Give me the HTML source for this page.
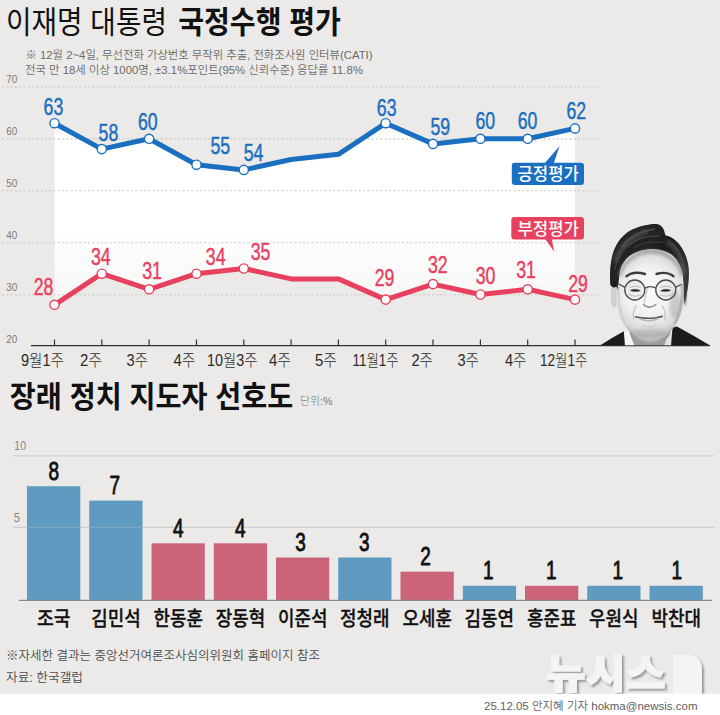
<!DOCTYPE html>
<html lang="ko"><head><meta charset="utf-8"><title>이재명 대통령 국정수행 평가</title>
<style>
html,body{margin:0;padding:0;background:#ebeae8;}
body{width:720px;height:715px;overflow:hidden;}
svg{display:block;}
text{font-family:"Liberation Sans","Noto Sans CJK KR","NanumGothic",sans-serif;}
.kr{font-family:"Liberation Sans","Noto Sans CJK KR","NanumGothic",sans-serif;}
.num{font-family:"Liberation Sans","Noto Sans CJK KR",sans-serif;}
</style></head><body>
<svg width="720" height="715" viewBox="0 0 720 715">
<defs>
<linearGradient id="wfade" gradientUnits="userSpaceOnUse" x1="0" y1="120" x2="0" y2="306">
<stop offset="0" stop-color="#fff" stop-opacity="0.25"/>
<stop offset="0.1" stop-color="#fff" stop-opacity="1"/>
<stop offset="0.58" stop-color="#fff" stop-opacity="1"/>
<stop offset="1" stop-color="#fff" stop-opacity="0.58"/>
</linearGradient>
<filter id="ds" x="-10%" y="-10%" width="130%" height="140%">
<feGaussianBlur in="SourceAlpha" stdDeviation="1.2"/><feOffset dx="2.2" dy="2" result="o"/>
<feComponentTransfer><feFuncA type="linear" slope="0.36"/></feComponentTransfer>
<feMerge><feMergeNode/><feMergeNode in="SourceGraphic"/></feMerge>
</filter>
</defs>
<rect width="720" height="715" fill="#ebeae8"/>
<text class="kr" x="6" y="33.2" font-size="31" font-weight="400" fill="#111" textLength="161" lengthAdjust="spacingAndGlyphs">이재명 대통령</text>
<text class="kr" x="178.3" y="33.2" font-size="31" font-weight="700" fill="#111" textLength="162.5" lengthAdjust="spacingAndGlyphs">국정수행 평가</text>
<text class="kr" x="25.5" y="59" font-size="11" font-weight="350" fill="#6a6a6a" textLength="347" lengthAdjust="spacingAndGlyphs">※ 12월 2~4일, 무선전화 가상번호 무작위 추출, 전화조사원 인터뷰(CATI)</text>
<text class="kr" x="25" y="74.2" font-size="11" font-weight="350" fill="#6a6a6a" textLength="338" lengthAdjust="spacingAndGlyphs">전국 만 18세 이상 1000명, ±3.1%포인트(95% 신뢰수준) 응답률 11.8%</text>
<polygon points="54.5,123.2 101.8,149.1 149.1,138.8 196.5,164.7 243.8,169.9 291.1,159.5 338.4,154.3 385.7,123.2 433.0,143.9 480.4,138.8 527.7,138.8 575.0,128.4 575.0,299.6 527.7,289.3 480.4,294.5 433.0,284.1 385.7,299.6 338.4,278.9 291.1,278.9 243.8,268.5 196.5,273.7 149.1,289.3 101.8,273.7 54.5,304.8" fill="url(#wfade)"/>
<line x1="2" x2="600" y1="87.0" y2="87.0" stroke="#c8c8c6" stroke-width="1.1" stroke-dasharray="2 2.3"/>
<line x1="2" x2="600" y1="138.9" y2="138.9" stroke="#c8c8c6" stroke-width="1.1" stroke-dasharray="2 2.3"/>
<line x1="2" x2="600" y1="190.8" y2="190.8" stroke="#c8c8c6" stroke-width="1.1" stroke-dasharray="2 2.3"/>
<line x1="2" x2="600" y1="242.8" y2="242.8" stroke="#c8c8c6" stroke-width="1.1" stroke-dasharray="2 2.3"/>
<line x1="2" x2="600" y1="294.7" y2="294.7" stroke="#c8c8c6" stroke-width="1.1" stroke-dasharray="2 2.3"/>
<text class="num" transform="translate(6.3 83.2) scale(0.9 1)" font-size="11" fill="#7a7a7a">70</text>
<text class="num" transform="translate(6.3 135.2) scale(0.9 1)" font-size="11" fill="#7a7a7a">60</text>
<text class="num" transform="translate(6.3 187.1) scale(0.9 1)" font-size="11" fill="#7a7a7a">50</text>
<text class="num" transform="translate(6.3 239.0) scale(0.9 1)" font-size="11" fill="#7a7a7a">40</text>
<text class="num" transform="translate(6.3 290.9) scale(0.9 1)" font-size="11" fill="#7a7a7a">30</text>
<text class="num" transform="translate(6.3 342.8) scale(0.9 1)" font-size="11" fill="#7a7a7a">20</text>
<line x1="31" x2="710" y1="345.6" y2="345.6" stroke="#333" stroke-width="1.4"/>
<line x1="54.5" x2="54.5" y1="339.5" y2="345.5" stroke="#333" stroke-width="1.2"/>
<line x1="101.8" x2="101.8" y1="339.5" y2="345.5" stroke="#333" stroke-width="1.2"/>
<line x1="149.1" x2="149.1" y1="339.5" y2="345.5" stroke="#333" stroke-width="1.2"/>
<line x1="196.5" x2="196.5" y1="339.5" y2="345.5" stroke="#333" stroke-width="1.2"/>
<line x1="243.8" x2="243.8" y1="339.5" y2="345.5" stroke="#333" stroke-width="1.2"/>
<line x1="291.1" x2="291.1" y1="339.5" y2="345.5" stroke="#333" stroke-width="1.2"/>
<line x1="338.4" x2="338.4" y1="339.5" y2="345.5" stroke="#333" stroke-width="1.2"/>
<line x1="385.7" x2="385.7" y1="339.5" y2="345.5" stroke="#333" stroke-width="1.2"/>
<line x1="433.0" x2="433.0" y1="339.5" y2="345.5" stroke="#333" stroke-width="1.2"/>
<line x1="480.4" x2="480.4" y1="339.5" y2="345.5" stroke="#333" stroke-width="1.2"/>
<line x1="527.7" x2="527.7" y1="339.5" y2="345.5" stroke="#333" stroke-width="1.2"/>
<line x1="575.0" x2="575.0" y1="339.5" y2="345.5" stroke="#333" stroke-width="1.2"/>
<text class="kr" x="21.0" y="366.3" font-size="16" fill="#2a2a2a" font-weight="300" textLength="43.0" lengthAdjust="spacingAndGlyphs">9월1주</text>
<text class="kr" x="80.0" y="366.3" font-size="16" fill="#2a2a2a" font-weight="300" textLength="22.0" lengthAdjust="spacingAndGlyphs">2주</text>
<text class="kr" x="126.5" y="366.3" font-size="16" fill="#2a2a2a" font-weight="300" textLength="21.5" lengthAdjust="spacingAndGlyphs">3주</text>
<text class="kr" x="173.5" y="366.3" font-size="16" fill="#2a2a2a" font-weight="300" textLength="22.0" lengthAdjust="spacingAndGlyphs">4주</text>
<text class="kr" x="207.0" y="366.3" font-size="16" fill="#2a2a2a" font-weight="300" textLength="50.5" lengthAdjust="spacingAndGlyphs">10월3주</text>
<text class="kr" x="269.0" y="366.3" font-size="16" fill="#2a2a2a" font-weight="300" textLength="22.0" lengthAdjust="spacingAndGlyphs">4주</text>
<text class="kr" x="315.0" y="366.3" font-size="16" fill="#2a2a2a" font-weight="300" textLength="22.0" lengthAdjust="spacingAndGlyphs">5주</text>
<text class="kr" x="352.5" y="366.3" font-size="16" fill="#2a2a2a" font-weight="300" textLength="46.0" lengthAdjust="spacingAndGlyphs">11월1주</text>
<text class="kr" x="411.5" y="366.3" font-size="16" fill="#2a2a2a" font-weight="300" textLength="21.5" lengthAdjust="spacingAndGlyphs">2주</text>
<text class="kr" x="457.5" y="366.3" font-size="16" fill="#2a2a2a" font-weight="300" textLength="21.5" lengthAdjust="spacingAndGlyphs">3주</text>
<text class="kr" x="505.0" y="366.3" font-size="16" fill="#2a2a2a" font-weight="300" textLength="21.5" lengthAdjust="spacingAndGlyphs">4주</text>
<text class="kr" x="540.0" y="366.3" font-size="16" fill="#2a2a2a" font-weight="300" textLength="47.5" lengthAdjust="spacingAndGlyphs">12월1주</text>
<polyline points="54.5,123.2 101.8,149.1 149.1,138.8 196.5,164.7 243.8,169.9 291.1,159.5 338.4,154.3 385.7,123.2 433.0,143.9 480.4,138.8 527.7,138.8 575.0,128.4" fill="none" stroke="#1b6fc0" stroke-width="5" stroke-linejoin="round" stroke-linecap="round"/>
<circle cx="54.5" cy="123.2" r="4.6" fill="#fff" stroke="#1b6fc0" stroke-width="1.4"/>
<circle cx="101.8" cy="149.1" r="4.6" fill="#fff" stroke="#1b6fc0" stroke-width="1.4"/>
<circle cx="149.1" cy="138.8" r="4.6" fill="#fff" stroke="#1b6fc0" stroke-width="1.4"/>
<circle cx="196.5" cy="164.7" r="4.6" fill="#fff" stroke="#1b6fc0" stroke-width="1.4"/>
<circle cx="243.8" cy="169.9" r="4.6" fill="#fff" stroke="#1b6fc0" stroke-width="1.4"/>
<circle cx="385.7" cy="123.2" r="4.6" fill="#fff" stroke="#1b6fc0" stroke-width="1.4"/>
<circle cx="433.0" cy="143.9" r="4.6" fill="#fff" stroke="#1b6fc0" stroke-width="1.4"/>
<circle cx="480.4" cy="138.8" r="4.6" fill="#fff" stroke="#1b6fc0" stroke-width="1.4"/>
<circle cx="527.7" cy="138.8" r="4.6" fill="#fff" stroke="#1b6fc0" stroke-width="1.4"/>
<circle cx="575.0" cy="128.4" r="4.6" fill="#fff" stroke="#1b6fc0" stroke-width="1.4"/>
<polyline points="54.5,304.8 101.8,273.7 149.1,289.3 196.5,273.7 243.8,268.5 291.1,278.9 338.4,278.9 385.7,299.6 433.0,284.1 480.4,294.5 527.7,289.3 575.0,299.6" fill="none" stroke="#e8405f" stroke-width="5" stroke-linejoin="round" stroke-linecap="round"/>
<circle cx="54.5" cy="304.8" r="4.6" fill="#fff" stroke="#e8405f" stroke-width="1.4"/>
<circle cx="101.8" cy="273.7" r="4.6" fill="#fff" stroke="#e8405f" stroke-width="1.4"/>
<circle cx="149.1" cy="289.3" r="4.6" fill="#fff" stroke="#e8405f" stroke-width="1.4"/>
<circle cx="196.5" cy="273.7" r="4.6" fill="#fff" stroke="#e8405f" stroke-width="1.4"/>
<circle cx="243.8" cy="268.5" r="4.6" fill="#fff" stroke="#e8405f" stroke-width="1.4"/>
<circle cx="385.7" cy="299.6" r="4.6" fill="#fff" stroke="#e8405f" stroke-width="1.4"/>
<circle cx="433.0" cy="284.1" r="4.6" fill="#fff" stroke="#e8405f" stroke-width="1.4"/>
<circle cx="480.4" cy="294.5" r="4.6" fill="#fff" stroke="#e8405f" stroke-width="1.4"/>
<circle cx="527.7" cy="289.3" r="4.6" fill="#fff" stroke="#e8405f" stroke-width="1.4"/>
<circle cx="575.0" cy="299.6" r="4.6" fill="#fff" stroke="#e8405f" stroke-width="1.4"/>
<text class="num" transform="translate(53.4 115.0) scale(0.77 1)" font-size="23" fill="#1b6fc0" stroke="#1b6fc0" stroke-width="0.45" text-anchor="middle" font-weight="400">63</text>
<text class="num" transform="translate(108.4 140.5) scale(0.77 1)" font-size="23" fill="#1b6fc0" stroke="#1b6fc0" stroke-width="0.45" text-anchor="middle" font-weight="400">58</text>
<text class="num" transform="translate(147.8 130.0) scale(0.77 1)" font-size="23" fill="#1b6fc0" stroke="#1b6fc0" stroke-width="0.45" text-anchor="middle" font-weight="400">60</text>
<text class="num" transform="translate(220.3 153.5) scale(0.77 1)" font-size="23" fill="#1b6fc0" stroke="#1b6fc0" stroke-width="0.45" text-anchor="middle" font-weight="400">55</text>
<text class="num" transform="translate(253.5 161.0) scale(0.77 1)" font-size="23" fill="#1b6fc0" stroke="#1b6fc0" stroke-width="0.45" text-anchor="middle" font-weight="400">54</text>
<text class="num" transform="translate(386.7 116.0) scale(0.77 1)" font-size="23" fill="#1b6fc0" stroke="#1b6fc0" stroke-width="0.45" text-anchor="middle" font-weight="400">63</text>
<text class="num" transform="translate(440.3 134.5) scale(0.77 1)" font-size="23" fill="#1b6fc0" stroke="#1b6fc0" stroke-width="0.45" text-anchor="middle" font-weight="400">59</text>
<text class="num" transform="translate(485.3 129.0) scale(0.77 1)" font-size="23" fill="#1b6fc0" stroke="#1b6fc0" stroke-width="0.45" text-anchor="middle" font-weight="400">60</text>
<text class="num" transform="translate(527.5 129.0) scale(0.77 1)" font-size="23" fill="#1b6fc0" stroke="#1b6fc0" stroke-width="0.45" text-anchor="middle" font-weight="400">60</text>
<text class="num" transform="translate(576.3 119.3) scale(0.77 1)" font-size="23" fill="#1b6fc0" stroke="#1b6fc0" stroke-width="0.45" text-anchor="middle" font-weight="400">62</text>
<text class="num" transform="translate(43.5 295.4) scale(0.77 1)" font-size="23" fill="#e8405f" stroke="#e8405f" stroke-width="0.45" text-anchor="middle" font-weight="400">28</text>
<text class="num" transform="translate(100.8 265.0) scale(0.77 1)" font-size="23" fill="#e8405f" stroke="#e8405f" stroke-width="0.45" text-anchor="middle" font-weight="400">34</text>
<text class="num" transform="translate(152.0 279.0) scale(0.77 1)" font-size="23" fill="#e8405f" stroke="#e8405f" stroke-width="0.45" text-anchor="middle" font-weight="400">31</text>
<text class="num" transform="translate(215.7 265.4) scale(0.77 1)" font-size="23" fill="#e8405f" stroke="#e8405f" stroke-width="0.45" text-anchor="middle" font-weight="400">34</text>
<text class="num" transform="translate(260.5 259.5) scale(0.77 1)" font-size="23" fill="#e8405f" stroke="#e8405f" stroke-width="0.45" text-anchor="middle" font-weight="400">35</text>
<text class="num" transform="translate(384.5 286.0) scale(0.77 1)" font-size="23" fill="#e8405f" stroke="#e8405f" stroke-width="0.45" text-anchor="middle" font-weight="400">29</text>
<text class="num" transform="translate(437.8 272.7) scale(0.77 1)" font-size="23" fill="#e8405f" stroke="#e8405f" stroke-width="0.45" text-anchor="middle" font-weight="400">32</text>
<text class="num" transform="translate(485.5 284.3) scale(0.77 1)" font-size="23" fill="#e8405f" stroke="#e8405f" stroke-width="0.45" text-anchor="middle" font-weight="400">30</text>
<text class="num" transform="translate(526.0 278.3) scale(0.77 1)" font-size="23" fill="#e8405f" stroke="#e8405f" stroke-width="0.45" text-anchor="middle" font-weight="400">31</text>
<text class="num" transform="translate(578.0 291.7) scale(0.77 1)" font-size="23" fill="#e8405f" stroke="#e8405f" stroke-width="0.45" text-anchor="middle" font-weight="400">29</text>
<path d="M544,164 L559.6,146 L553.5,164 Z" fill="#1b6fc0"/>
<rect x="511.8" y="162.7" width="72.2" height="22.3" rx="3" fill="#1b6fc0"/>
<text class="kr" x="517.5" y="180.2" font-size="16.5" fill="#fff" font-weight="500" textLength="61.5" lengthAdjust="spacingAndGlyphs">긍정평가</text>
<path d="M544.5,238 L554.2,251.8 L551.5,238 Z" fill="#e8405f"/>
<rect x="511.3" y="217" width="72.7" height="22.6" rx="3" fill="#e8405f"/>
<text class="kr" x="517.5" y="234.6" font-size="16.5" fill="#fff" font-weight="500" textLength="61.5" lengthAdjust="spacingAndGlyphs">부정평가</text>
<g id="portrait">
<defs>
<clipPath id="pclip"><rect x="588" y="212" width="126" height="133.2"/></clipPath>
<radialGradient id="skin" cx="649" cy="292" r="44" gradientUnits="userSpaceOnUse">
<stop offset="0" stop-color="#fbfbfb"/><stop offset="0.55" stop-color="#f1f1f1"/><stop offset="0.85" stop-color="#dcdcdc"/><stop offset="1" stop-color="#bdbdbd"/>
</radialGradient>
<linearGradient id="hairg" gradientUnits="userSpaceOnUse" x1="620" y1="225" x2="685" y2="290">
<stop offset="0" stop-color="#2b2b2b"/><stop offset="0.5" stop-color="#1d1d1d"/><stop offset="1" stop-color="#3a3a3a"/>
</linearGradient>
<filter id="pb" x="-5%" y="-5%" width="110%" height="110%"><feGaussianBlur stdDeviation="0.55"/></filter>
<filter id="pb2" x="-20%" y="-20%" width="140%" height="140%"><feGaussianBlur stdDeviation="1.6"/></filter>
</defs>
<g clip-path="url(#pclip)">
<g filter="url(#pb)">
<!-- neck & shirt -->
<path d="M630,330 L670,330 L672,346 L626,346 Z" fill="#9c9c9c"/>
<path d="M623.5,333.5 L629,332 L634.5,346 L624.3,346 Z" fill="#f6f6f6"/>
<path d="M666,340 L672.5,331 L673,346 L664,346 Z" fill="#e2e2e2"/>
<!-- suit -->
<path d="M599,346 L612,338 L623.8,331.2 L625,346 Z" fill="#1f1f1f"/>
<path d="M671,346 L672.5,327.5 L677,326.5 L694,336 L711,346 Z" fill="#1f1f1f"/>
<!-- ears -->
<ellipse cx="614.2" cy="296" rx="3.6" ry="12" fill="#cfcfcf"/>
<ellipse cx="685" cy="297" rx="2.4" ry="9" fill="#b9b9b9"/>
<!-- face -->
<path d="M618,280 C616,288 616,300 617.5,308 C619,317 624,326 631,332.5 C637,338 644,342 650,342 C656,342 663,338.5 669,333 C676,326 681,316 682.5,307 C684,298 684,288 683,278 C681,262 668,250 652,249 C636,249 621,262 618,280 Z" fill="url(#skin)"/>
<!-- chin/jaw shade -->
<path d="M626,326 C634,336 643,341 650,341 C657,341 666,336 673,327 C668,337 658,343.5 650,343.5 C642,343.5 632,337 626,326 Z" fill="#aaaaaa" opacity="0.7"/>
<!-- hair -->
<path d="M610.3,285 C609.3,272 610.5,259 614,250 C618,240 625,233 632,229.5 C640,226 650,223.6 656,224 C661.5,224.5 664.3,228.5 665.3,235.3 C670.5,236.3 676.5,240 680.5,246 C686,254 689,263 689,273.5 C689,283 687.3,293 684.7,304 L683.6,296 C683.8,290 683.6,282 682.8,275.5 C681.5,266.5 677,259 672,255 C667,251.3 660,249.3 652.5,249 C645,249 637,251.3 631,255 C625,259 621.3,265 619.8,272 C618.8,278 618.3,284 618,290 L616.2,286.5 C614.5,288.3 612,287.6 610.3,285 Z" fill="url(#hairg)"/>
<!-- hair highlights -->
<path d="M616,262 C619,248 630,237 648,231" fill="none" stroke="#6a6a6a" stroke-width="5" opacity="0.45" filter="url(#pb2)"/>
<path d="M666,242 C676,247 683,258 685,274" fill="none" stroke="#6a6a6a" stroke-width="4" opacity="0.4" filter="url(#pb2)"/>
<path d="M628,246 C636,239 648,235.5 660,236" fill="none" stroke="#505050" stroke-width="1.2" opacity="0.8"/>
<path d="M634,247.5 C642,242.5 652,241 663,242.5" fill="none" stroke="#484848" stroke-width="1.1" opacity="0.8"/>
<path d="M615,270 C616.5,259 621,250.5 627,245" fill="none" stroke="#4e4e4e" stroke-width="1.2" opacity="0.8"/>
<path d="M622,247 C628,238 640,231 655,229" fill="none" stroke="#565656" stroke-width="2.2" opacity="0.7"/>
<path d="M668,240 C676,246 682,256 684,268" fill="none" stroke="#4c4c4c" stroke-width="2" opacity="0.7"/>
<!-- forehead shade under hairline -->
<path d="M620,276 C622,262 636,251.5 652,251.5 C667,251.5 680,262 682,276" fill="none" stroke="#8a8a8a" stroke-width="4.5" opacity="0.55" filter="url(#pb2)"/>
<!-- temple/cheek side shading -->
<path d="M619,284 C617.6,296 619,312 625.5,324" fill="none" stroke="#cdcdcd" stroke-width="2.4" opacity="0.8"/>
<path d="M681.8,284 C683.3,296 681.3,312 674.5,324" fill="none" stroke="#b4b4b4" stroke-width="3" opacity="0.85"/>
<ellipse cx="675" cy="305" rx="6" ry="14" fill="#8f8f8f" opacity="0.35" filter="url(#pb2)"/>
<ellipse cx="650" cy="333" rx="16" ry="5" fill="#9a9a9a" opacity="0.3" filter="url(#pb2)"/>
<!-- eyebrows -->
<path d="M626.5,276.3 C631,272.6 638,272 645,274" fill="none" stroke="#3c3c3c" stroke-width="2.4" stroke-linecap="round"/>
<path d="M656.5,274 C663,272 669,272.6 673.5,276.3" fill="none" stroke="#3c3c3c" stroke-width="2.4" stroke-linecap="round"/>
<!-- eyes -->
<path d="M630.5,290.4 C633,289 637.5,289 640.3,290.8 C637.5,291.6 633,291.6 630.5,290.4 Z" fill="#2a2a2a" stroke="#2a2a2a" stroke-width="0.6"/>
<path d="M660.7,290.8 C663.5,289 668,289 670.5,290.4 C668,291.6 663.5,291.6 660.7,290.8 Z" fill="#2a2a2a" stroke="#2a2a2a" stroke-width="0.6"/>
<path d="M629.5,287.6 C632.5,285.8 637.5,285.8 641,287.8" fill="none" stroke="#bdbdbd" stroke-width="1"/>
<path d="M660,287.8 C663.5,285.8 668.5,285.8 671.5,287.6" fill="none" stroke="#bdbdbd" stroke-width="1"/>
<path d="M629,294.5 C633,296.5 638,296.5 641,294.5" fill="none" stroke="#c9c9c9" stroke-width="1.2"/>
<path d="M660,294.5 C663,296.5 668,296.5 672,294.5" fill="none" stroke="#c9c9c9" stroke-width="1.2"/>
<!-- nose -->
<path d="M647.5,287 C646.5,294 645,299 643.8,303.5" fill="none" stroke="#d2d2d2" stroke-width="1.6"/>
<path d="M643.5,304.5 C645.5,307.3 648,306.2 649.5,307.4 C651,306.2 653.5,307.3 655.8,304.5" fill="none" stroke="#8d8d8d" stroke-width="1.4" stroke-linecap="round"/>
<!-- smile lines -->
<path d="M636.5,305.5 C633.5,310 632.5,315 634,319.5" fill="none" stroke="#c2c2c2" stroke-width="1.3"/>
<path d="M662,305.5 C665,310 666,315 664.5,319.5" fill="none" stroke="#c2c2c2" stroke-width="1.3"/>
<!-- mouth -->
<path d="M635.5,316.8 C642,318.8 655,319 662.3,316.2" fill="none" stroke="#5a5a5a" stroke-width="1.5" stroke-linecap="round"/>
<path d="M640,318.6 C645,321.4 653,321.4 658,318.6" fill="none" stroke="#b5b5b5" stroke-width="1.6"/>
<path d="M642,325.5 C646,327 652,327 656,325.5" fill="none" stroke="#cfcfcf" stroke-width="1.4"/>
<!-- glasses -->
<circle cx="634.8" cy="290" r="10" fill="#000" fill-opacity="0.03" stroke="#4b4b4b" stroke-width="1.35"/>
<circle cx="665.8" cy="290" r="10" fill="#000" fill-opacity="0.03" stroke="#4b4b4b" stroke-width="1.35"/>
<path d="M644.6,288.3 C647.5,286 653,286 656,288.3" fill="none" stroke="#4b4b4b" stroke-width="1.3"/>
<path d="M625,287.4 L618.4,283.8" stroke="#4b4b4b" stroke-width="1.2"/>
<path d="M675.6,287.4 L681.3,284.3" stroke="#4b4b4b" stroke-width="1.2"/>
</g>
</g>
</g>

<text class="kr" x="9.8" y="407.4" font-size="30" font-weight="700" fill="#111" textLength="283.5" lengthAdjust="spacingAndGlyphs">장래 정치 지도자 선호도</text>
<text class="kr" x="300" y="405" font-size="11" font-weight="300" fill="#777" textLength="32.5" lengthAdjust="spacingAndGlyphs">단위:%</text>
<line x1="13.3" x2="714.5" y1="455.8" y2="455.8" stroke="#cfcfcd" stroke-width="1.2"/>
<line x1="13.3" x2="714.5" y1="527.3" y2="527.3" stroke="#cfcfcd" stroke-width="1.2"/>
<text class="num" transform="translate(14.3 450.3) scale(0.84 1)" font-size="12.5" fill="#858585">10</text>
<text class="num" transform="translate(13.7 522) scale(0.9 1)" font-size="12.5" fill="#858585">5</text>
<rect x="27.0" y="486.2" width="53.3" height="113.8" fill="#5f9bc1"/>
<text class="num" transform="translate(53.9 479.7) scale(0.76 1)" font-size="25" font-weight="400" fill="#111" stroke="#111" stroke-width="0.85" stroke-linejoin="round" text-anchor="middle">8</text>
<text class="kr" x="36.9" y="626.2" font-size="20" font-weight="500" fill="#111" stroke="#111" stroke-width="0.3" textLength="33.5" lengthAdjust="spacingAndGlyphs">조국</text>
<rect x="89.2" y="500.6" width="53.3" height="99.4" fill="#5f9bc1"/>
<text class="num" transform="translate(114.9 494.1) scale(0.76 1)" font-size="25" font-weight="400" fill="#111" stroke="#111" stroke-width="0.85" stroke-linejoin="round" text-anchor="middle">7</text>
<text class="kr" x="91.2" y="626.2" font-size="20" font-weight="500" fill="#111" stroke="#111" stroke-width="0.3" textLength="49.5" lengthAdjust="spacingAndGlyphs">김민석</text>
<rect x="151.5" y="543.3" width="53.3" height="56.7" fill="#cc6479"/>
<text class="num" transform="translate(178.2 536.8) scale(0.76 1)" font-size="25" font-weight="400" fill="#111" stroke="#111" stroke-width="0.85" stroke-linejoin="round" text-anchor="middle">4</text>
<text class="kr" x="153.4" y="626.2" font-size="20" font-weight="500" fill="#111" stroke="#111" stroke-width="0.3" textLength="49.5" lengthAdjust="spacingAndGlyphs">한동훈</text>
<rect x="213.8" y="543.3" width="53.3" height="56.7" fill="#cc6479"/>
<text class="num" transform="translate(240.4 536.8) scale(0.76 1)" font-size="25" font-weight="400" fill="#111" stroke="#111" stroke-width="0.85" stroke-linejoin="round" text-anchor="middle">4</text>
<text class="kr" x="215.7" y="626.2" font-size="20" font-weight="500" fill="#111" stroke="#111" stroke-width="0.3" textLength="49.5" lengthAdjust="spacingAndGlyphs">장동혁</text>
<rect x="276.0" y="557.5" width="53.3" height="42.5" fill="#cc6479"/>
<text class="num" transform="translate(300.6 551.0) scale(0.76 1)" font-size="25" font-weight="400" fill="#111" stroke="#111" stroke-width="0.85" stroke-linejoin="round" text-anchor="middle">3</text>
<text class="kr" x="277.9" y="626.2" font-size="20" font-weight="500" fill="#111" stroke="#111" stroke-width="0.3" textLength="49.5" lengthAdjust="spacingAndGlyphs">이준석</text>
<rect x="338.2" y="557.5" width="53.3" height="42.5" fill="#5f9bc1"/>
<text class="num" transform="translate(364.4 551.0) scale(0.76 1)" font-size="25" font-weight="400" fill="#111" stroke="#111" stroke-width="0.85" stroke-linejoin="round" text-anchor="middle">3</text>
<text class="kr" x="340.1" y="626.2" font-size="20" font-weight="500" fill="#111" stroke="#111" stroke-width="0.3" textLength="49.5" lengthAdjust="spacingAndGlyphs">정청래</text>
<rect x="400.5" y="571.7" width="53.3" height="28.3" fill="#cc6479"/>
<text class="num" transform="translate(425.6 565.2) scale(0.76 1)" font-size="25" font-weight="400" fill="#111" stroke="#111" stroke-width="0.85" stroke-linejoin="round" text-anchor="middle">2</text>
<text class="kr" x="402.4" y="626.2" font-size="20" font-weight="500" fill="#111" stroke="#111" stroke-width="0.3" textLength="49.5" lengthAdjust="spacingAndGlyphs">오세훈</text>
<rect x="462.8" y="585.8" width="53.3" height="14.2" fill="#5f9bc1"/>
<text class="num" transform="translate(488.4 579.3) scale(0.76 1)" font-size="25" font-weight="400" fill="#111" stroke="#111" stroke-width="0.85" stroke-linejoin="round" text-anchor="middle">1</text>
<text class="kr" x="464.6" y="626.2" font-size="20" font-weight="500" fill="#111" stroke="#111" stroke-width="0.3" textLength="49.5" lengthAdjust="spacingAndGlyphs">김동연</text>
<rect x="525.0" y="585.8" width="53.3" height="14.2" fill="#cc6479"/>
<text class="num" transform="translate(551.4 579.3) scale(0.76 1)" font-size="25" font-weight="400" fill="#111" stroke="#111" stroke-width="0.85" stroke-linejoin="round" text-anchor="middle">1</text>
<text class="kr" x="526.9" y="626.2" font-size="20" font-weight="500" fill="#111" stroke="#111" stroke-width="0.3" textLength="49.5" lengthAdjust="spacingAndGlyphs">홍준표</text>
<rect x="587.2" y="585.8" width="53.3" height="14.2" fill="#5f9bc1"/>
<text class="num" transform="translate(617.9 579.3) scale(0.76 1)" font-size="25" font-weight="400" fill="#111" stroke="#111" stroke-width="0.85" stroke-linejoin="round" text-anchor="middle">1</text>
<text class="kr" x="589.1" y="626.2" font-size="20" font-weight="500" fill="#111" stroke="#111" stroke-width="0.3" textLength="49.5" lengthAdjust="spacingAndGlyphs">우원식</text>
<rect x="649.5" y="585.8" width="53.3" height="14.2" fill="#5f9bc1"/>
<text class="num" transform="translate(676.8 579.3) scale(0.76 1)" font-size="25" font-weight="400" fill="#111" stroke="#111" stroke-width="0.85" stroke-linejoin="round" text-anchor="middle">1</text>
<text class="kr" x="651.4" y="626.2" font-size="20" font-weight="500" fill="#111" stroke="#111" stroke-width="0.3" textLength="49.5" lengthAdjust="spacingAndGlyphs">박찬대</text>
<line x1="27" x2="143" y1="527.3" y2="527.3" stroke="#cfcfcd" stroke-width="1" opacity="0.3"/>
<line x1="19" x2="712" y1="600.3" y2="600.3" stroke="#8a8a8a" stroke-width="1.2"/>
<text class="kr" x="6" y="659.5" font-size="12.5" font-weight="350" fill="#4a4a4a" textLength="314" lengthAdjust="spacingAndGlyphs">※자세한 결과는 중앙선거여론조사심의위원회 홈페이지 참조</text>
<text class="kr" x="6" y="681.5" font-size="12.5" font-weight="350" fill="#4a4a4a" textLength="77" lengthAdjust="spacingAndGlyphs">자료: 한국갤럽</text>
<g filter="url(#ds)"><text class="kr" transform="translate(545.8 688.3) scale(1.19 1.1)" font-size="36.5" font-weight="900" fill="#f4f4f3" stroke="#f4f4f3" stroke-width="0.9">뉴시스</text>
<path d="M673,654.6 H688 A14,14 0 0 1 702,668.6 V694 H673 Z" fill="#f4f4f3"/></g>
<rect x="0" y="693.7" width="720" height="21.3" fill="#ffffff"/>
<text class="kr" x="484" y="709.8" font-size="11.5" font-weight="350" fill="#5e5e5e" textLength="213.5" lengthAdjust="spacingAndGlyphs">25.12.05 안지혜 기자 hokma@newsis.com</text>
</svg></body></html>
